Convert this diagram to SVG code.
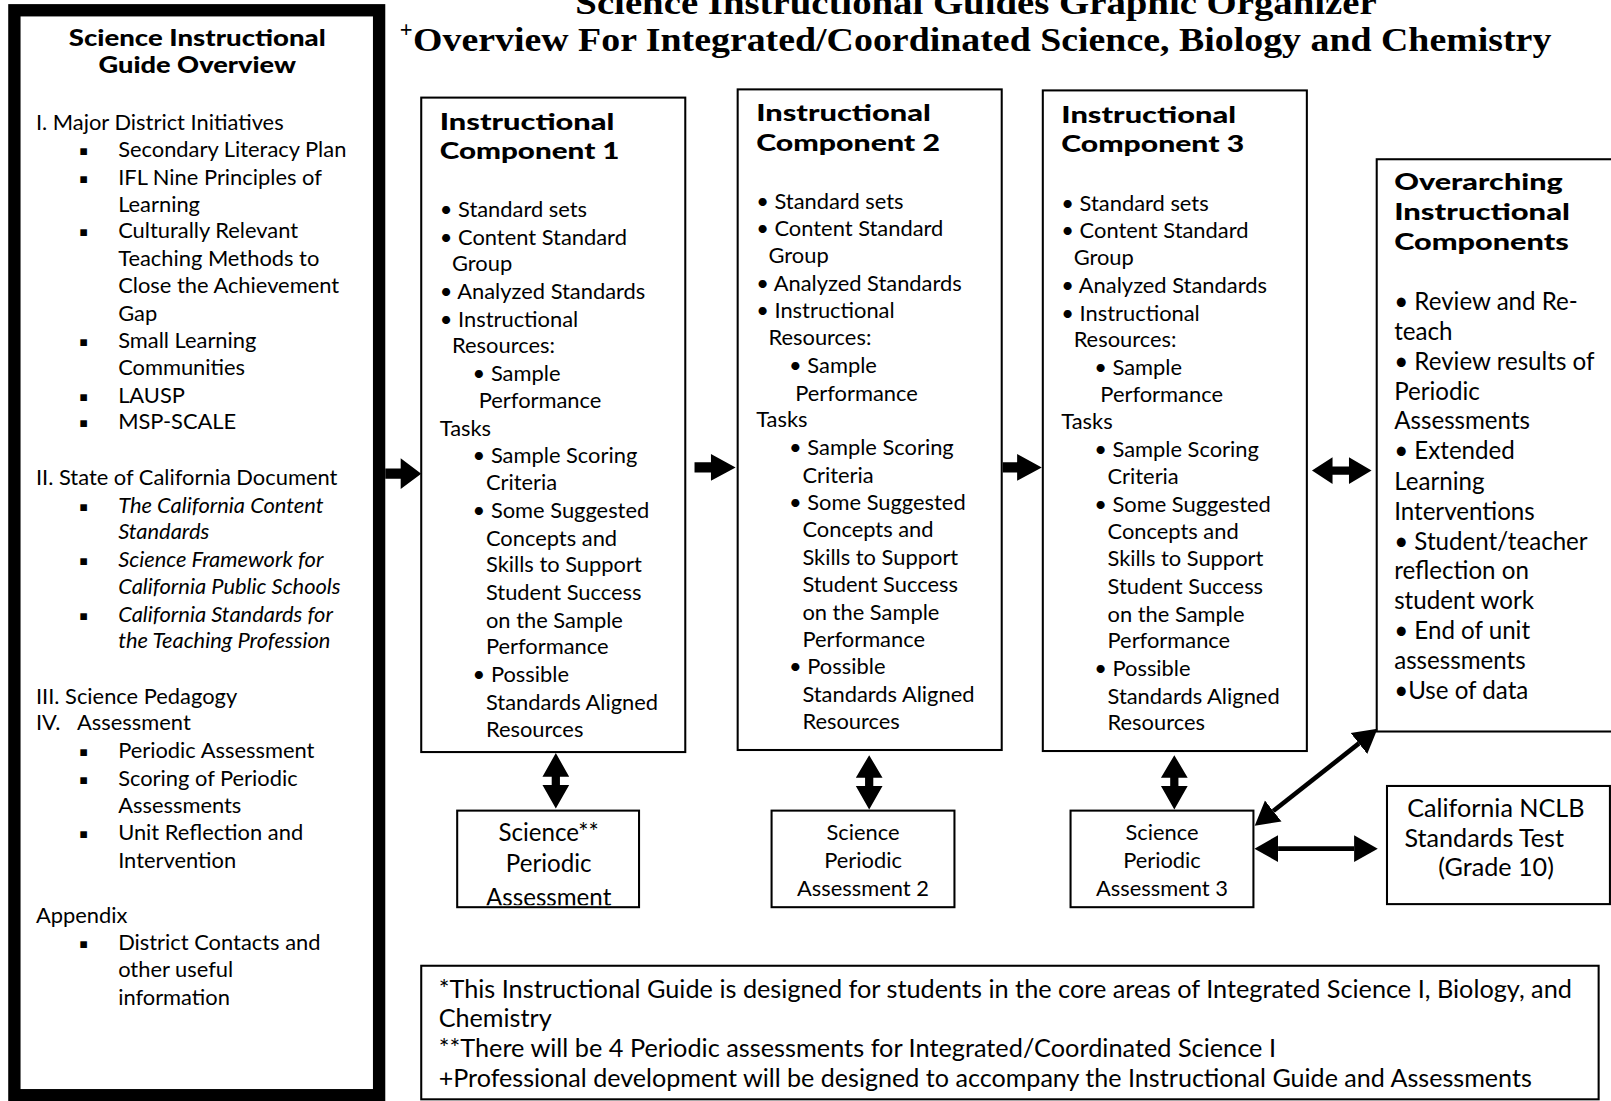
<svg xmlns="http://www.w3.org/2000/svg" width="1611" height="1101" viewBox="0 0 1611 1101">
<style>
.t{font-family:Lato,"Open Sans","DejaVu Sans",sans-serif;font-size:21.3px;fill:#000}
.o{font-family:Lato,"Open Sans","DejaVu Sans",sans-serif;font-size:23.5px;fill:#000}
.h{font-family:"Lato Black","Open Sans ExtraBold","Open Sans","DejaVu Sans",sans-serif;font-weight:900;font-size:22px;fill:#000}
.it{font-style:italic}
.sq{font-family:"DejaVu Sans",sans-serif;font-size:13px;fill:#000}
.ttl{font-family:"Liberation Serif","DejaVu Serif",serif;font-weight:bold;font-size:33px;fill:#000}
.bx{fill:#fff;stroke:#000;stroke-width:2}
.ar{fill:#000;stroke:none}
.ln{stroke:#000;stroke-width:4.5;fill:none}
.c{text-anchor:middle}
</style>
<defs>
<marker id="head" markerUnits="userSpaceOnUse" markerWidth="24" markerHeight="28" refX="0" refY="13" orient="auto-start-reverse" viewBox="0 0 24 26">
<path d="M0,0 L23,13 L0,26 Z" fill="#000"/>
</marker>
<clipPath id="clip1"><rect x="446" y="790" width="175" height="91"/></clipPath>
</defs>
<rect width="1611" height="1101" fill="#fff"/>
<g transform="scale(1.0274)">
<g id="title">
<text class="ttl" x="950" y="14" text-anchor="middle" textLength="780" lengthAdjust="spacingAndGlyphs">Science Instructional Guides   Graphic Organizer</text>
<text class="ttl" x="389" y="36" style="font-size:22px">+</text>
<text class="ttl" x="402" y="50" textLength="1108" lengthAdjust="spacingAndGlyphs">Overview For Integrated/Coordinated Science, Biology and Chemistry</text>
</g>
<g id="overview">
<rect x="14" y="10" width="355" height="1056" fill="#fff" stroke="#000" stroke-width="12"/>
<text class="h c" x="192" y="45" textLength="250" lengthAdjust="spacingAndGlyphs">Science Instructional</text>
<text class="h c" x="192" y="71" textLength="192" lengthAdjust="spacingAndGlyphs">Guide Overview</text>
<g class="t">
<text x="35" y="127">I. Major District Initiatives</text>
<text x="115" y="153">Secondary Literacy Plan</text>
<text x="115" y="180">IFL Nine Principles of</text>
<text x="115" y="206">Learning</text>
<text x="115" y="232">Culturally Relevant</text>
<text x="115" y="259">Teaching Methods to</text>
<text x="115" y="285">Close the Achievement</text>
<text x="115" y="312">Gap</text>
<text x="115" y="339">Small Learning</text>
<text x="115" y="365">Communities</text>
<text x="115" y="392">LAUSP</text>
<text x="115" y="418">MSP-SCALE</text>
<text x="35" y="472">II. State of California Document</text>
<text class="it" x="115" y="499">The California Content</text>
<text class="it" x="115" y="525">Standards</text>
<text class="it" x="115" y="552">Science Framework for</text>
<text class="it" x="115" y="578">California Public Schools</text>
<text class="it" x="115" y="605">California Standards for</text>
<text class="it" x="115" y="631">the Teaching Profession</text>
<text x="35" y="685">III. Science Pedagogy</text>
<text x="35" y="711">IV.</text>
<text x="75" y="711">Assessment</text>
<text x="115" y="738">Periodic Assessment</text>
<text x="115" y="765">Scoring of Periodic</text>
<text x="115" y="791">Assessments</text>
<text x="115" y="818">Unit Reflection and</text>
<text x="115" y="845">Intervention</text>
<text x="35" y="898">Appendix</text>
<text x="115" y="925">District Contacts and</text>
<text x="115" y="951">other useful</text>
<text x="115" y="978">information</text>
</g>
<g class="sq">
<text x="77" y="151">▪</text>
<text x="77" y="178">▪</text>
<text x="77" y="230">▪</text>
<text x="77" y="337">▪</text>
<text x="77" y="390">▪</text>
<text x="77" y="416">▪</text>
<text x="77" y="497">▪</text>
<text x="77" y="550">▪</text>
<text x="77" y="603">▪</text>
<text x="77" y="736">▪</text>
<text x="77" y="763">▪</text>
<text x="77" y="816">▪</text>
<text x="77" y="923">▪</text>
</g>
</g>
<g id="component1">
<rect class="bx" x="410" y="95" width="257" height="637"/>
<text class="h" x="428" y="127" textLength="170" lengthAdjust="spacingAndGlyphs">Instructional</text>
<text class="h" x="428" y="155" textLength="175" lengthAdjust="spacingAndGlyphs">Component 1</text>
<g class="t">
<text x="428" y="211">• Standard sets</text>
<text x="428" y="238">• Content Standard</text>
<text x="440" y="264">Group</text>
<text x="428" y="291">• Analyzed Standards</text>
<text x="428" y="318">• Instructional</text>
<text x="440" y="344">Resources:</text>
<text x="460" y="371">• Sample</text>
<text x="466" y="397">Performance</text>
<text x="428" y="424">Tasks</text>
<text x="460" y="451">• Sample Scoring</text>
<text x="473" y="477">Criteria</text>
<text x="460" y="504">• Some Suggested</text>
<text x="473" y="531">Concepts and</text>
<text x="473" y="557">Skills to Support</text>
<text x="473" y="584">Student Success</text>
<text x="473" y="611">on the Sample</text>
<text x="473" y="637">Performance</text>
<text x="460" y="664">• Possible</text>
<text x="473" y="691">Standards Aligned</text>
<text x="473" y="717">Resources</text>
</g>
</g>
<g id="component2">
<rect class="bx" x="718" y="87" width="257" height="643"/>
<text class="h" x="736" y="118" textLength="170" lengthAdjust="spacingAndGlyphs">Instructional</text>
<text class="h" x="736" y="147" textLength="179" lengthAdjust="spacingAndGlyphs">Component 2</text>
<g class="t">
<text x="736" y="203">• Standard sets</text>
<text x="736" y="230">• Content Standard</text>
<text x="748" y="256">Group</text>
<text x="736" y="283">• Analyzed Standards</text>
<text x="736" y="310">• Instructional</text>
<text x="748" y="336">Resources:</text>
<text x="768" y="363">• Sample</text>
<text x="774" y="390">Performance</text>
<text x="736" y="416">Tasks</text>
<text x="768" y="443">• Sample Scoring</text>
<text x="781" y="470">Criteria</text>
<text x="768" y="496">• Some Suggested</text>
<text x="781" y="523">Concepts and</text>
<text x="781" y="550">Skills to Support</text>
<text x="781" y="576">Student Success</text>
<text x="781" y="603">on the Sample</text>
<text x="781" y="630">Performance</text>
<text x="768" y="656">• Possible</text>
<text x="781" y="683">Standards Aligned</text>
<text x="781" y="710">Resources</text>
</g>
</g>
<g id="component3">
<rect class="bx" x="1015" y="88" width="257" height="643"/>
<text class="h" x="1033" y="120" textLength="170" lengthAdjust="spacingAndGlyphs">Instructional</text>
<text class="h" x="1033" y="148" textLength="178" lengthAdjust="spacingAndGlyphs">Component 3</text>
<g class="t">
<text x="1033" y="205">• Standard sets</text>
<text x="1033" y="232">• Content Standard</text>
<text x="1045" y="258">Group</text>
<text x="1033" y="285">• Analyzed Standards</text>
<text x="1033" y="312">• Instructional</text>
<text x="1045" y="338">Resources:</text>
<text x="1065" y="365">• Sample</text>
<text x="1071" y="391">Performance</text>
<text x="1033" y="418">Tasks</text>
<text x="1065" y="445">• Sample Scoring</text>
<text x="1078" y="471">Criteria</text>
<text x="1065" y="498">• Some Suggested</text>
<text x="1078" y="525">Concepts and</text>
<text x="1078" y="551">Skills to Support</text>
<text x="1078" y="578">Student Success</text>
<text x="1078" y="605">on the Sample</text>
<text x="1078" y="631">Performance</text>
<text x="1065" y="658">• Possible</text>
<text x="1078" y="685">Standards Aligned</text>
<text x="1078" y="711">Resources</text>
</g>
</g>
<g id="overarching">
<rect class="bx" x="1340" y="155" width="300" height="557"/>
<text class="h" x="1357" y="185" textLength="164" lengthAdjust="spacingAndGlyphs">Overarching</text>
<text class="h" x="1357" y="214" textLength="171" lengthAdjust="spacingAndGlyphs">Instructional</text>
<text class="h" x="1357" y="243" textLength="170" lengthAdjust="spacingAndGlyphs">Components</text>
<g class="o">
<text x="1357" y="302">• Review and Re-</text>
<text x="1357" y="331">teach</text>
<text x="1357" y="360">• Review results of</text>
<text x="1357" y="389">Periodic</text>
<text x="1357" y="418">Assessments</text>
<text x="1357" y="447">• Extended</text>
<text x="1357" y="477">Learning</text>
<text x="1357" y="506">Interventions</text>
<text x="1357" y="535">• Student/teacher</text>
<text x="1357" y="564">reflection on</text>
<text x="1357" y="593">student work</text>
<text x="1357" y="622">• End of unit</text>
<text x="1357" y="651">assessments</text>
<text x="1357" y="680">•Use of data</text>
</g>
</g>
<g id="assessment1">
<rect class="bx" x="445" y="789" width="177" height="94"/>
<g class="o c" clip-path="url(#clip1)">
<text x="534" y="819">Science**</text>
<text x="534" y="849">Periodic</text>
<text x="534" y="882">Assessment</text>
</g>
</g>
<g id="assessment2">
<rect class="bx" x="751" y="789" width="178" height="94"/>
<g class="t c">
<text x="840" y="818">Science</text>
<text x="840" y="845">Periodic</text>
<text x="840" y="872">Assessment 2</text>
</g>
</g>
<g id="assessment3">
<rect class="bx" x="1042" y="789" width="178" height="94"/>
<g class="t c">
<text x="1131" y="818">Science</text>
<text x="1131" y="845">Periodic</text>
<text x="1131" y="872">Assessment 3</text>
</g>
</g>
<g id="nclb">
<rect class="bx" x="1350" y="765" width="217" height="115"/>
<g class="o" style="font-size:24.5px">
<text class="c" x="1456" y="795">California NCLB</text>
<text x="1367" y="824">Standards Test</text>
<text x="1400" y="853">(Grade 10)</text>
</g>
</g>
<g id="footnotes">
<rect class="bx" x="410" y="940" width="1146" height="130"/>
<g class="o">
<text x="427" y="971" textLength="1103" lengthAdjust="spacingAndGlyphs">*This Instructional Guide is designed for students in the core areas of Integrated Science I, Biology, and</text>
<text x="427" y="1000" textLength="110" lengthAdjust="spacingAndGlyphs">Chemistry</text>
<text x="427" y="1029" textLength="815" lengthAdjust="spacingAndGlyphs">**There will be 4 Periodic assessments for Integrated/Coordinated Science I</text>
<text x="427" y="1058" textLength="1064" lengthAdjust="spacingAndGlyphs">+Professional development will be designed to accompany the Instructional Guide and Assessments</text>
</g>
</g>
<g id="connectors">
<polygon class="ar" points="375,456 390,456 390,446 410,461 390,476 390,466 375,466"/>
<polygon class="ar" points="676,450 692,450 692,442 716,455 692,468 692,460 676,460"/>
<polygon class="ar" points="976,450 990,450 990,442 1014,455 990,468 990,460 976,460"/>
<polygon class="ar" points="1277,458 1297,445 1297,454 1313,454 1313,445 1335,458 1313,471 1313,462 1297,462 1297,471"/>
<polygon class="ar" points="541,733 554,756 545,756 545,764 554,764 541,787 528,764 537,764 537,756 528,756"/>
<polygon class="ar" points="846,735 859,757 850,757 850,765 859,765 846,788 833,765 842,765 842,757 833,757"/>
<polygon class="ar" points="1143,735 1156,757 1147,757 1147,765 1156,765 1143,788 1130,765 1139,765 1139,757 1130,757"/>
<line class="ln" x1="1239.3" y1="789.4" x2="1322.7" y2="723.6" marker-start="url(#head)" marker-end="url(#head)"/>
<line class="ln" x1="1244" y1="826" x2="1318" y2="826" marker-start="url(#head)" marker-end="url(#head)"/>
</g>
</g>
</svg>
